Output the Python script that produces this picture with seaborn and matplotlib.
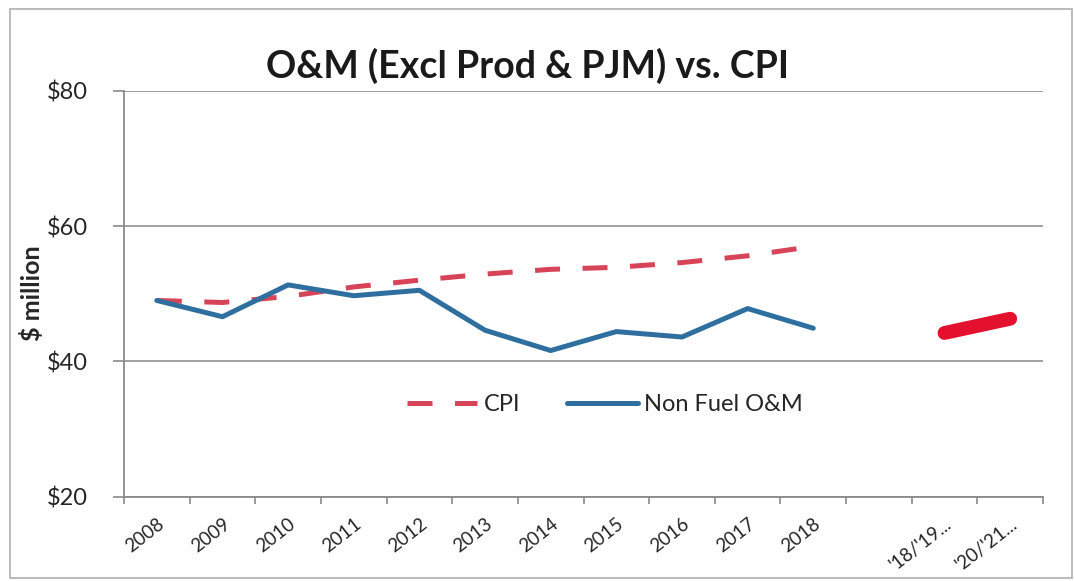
import matplotlib
matplotlib.use("Agg")
import matplotlib.pyplot as plt
import seaborn as sns
import pandas as pd
import numpy as np
from matplotlib.patches import Rectangle

categories = ["2008", "2009", "2010", "2011", "2012", "2013", "2014", "2015",
              "2016", "2017", "2018", "", "'18/'19...", "'20/'21..."]
years = ["2008", "2009", "2010", "2011", "2012", "2013", "2014", "2015",
         "2016", "2017", "2018"]
cpi = [49.0, 48.7, 49.6, 51.0, 52.0, 52.9, 53.6, 53.9, 54.6, 55.6, 57.0]
non_fuel_om = [49.0, 46.6, 51.3, 49.7, 50.5, 44.6, 41.6, 44.4, 43.6, 47.8, 44.9]
forecast_cats = ["'18/'19...", "'20/'21..."]
forecast = [44.2, 46.3]
y_ticks = [20, 40, 60, 80]

sns.set_theme(style="white")
plt.rcParams['font.family'] = ['Lato', 'DejaVu Sans']

W, H = 1074, 581
fig = plt.figure(figsize=(W / 100, H / 100), dpi=100)
ax = fig.add_axes([124 / W, 1 - 496.7 / H, (1043 - 124) / W, (496.7 - 90.7) / H])

pos = {c: i for i, c in enumerate(categories)}
df_cpi = pd.DataFrame({"x": [pos[c] for c in years], "y": cpi})
df_om = pd.DataFrame({"x": [pos[c] for c in years], "y": non_fuel_om})
df_fc = pd.DataFrame({"x": [pos[c] for c in forecast_cats], "y": forecast})

sns.lineplot(data=df_cpi, x="x", y="y", ax=ax, color="#D84457", linewidth=3.6,
             label="CPI", zorder=3)
ax.lines[-1].set_dashes([5, 4.5])
sns.lineplot(data=df_om, x="x", y="y", ax=ax, color="#2F6F9F", linewidth=3.6,
             label="Non Fuel O&M", zorder=4)
sns.lineplot(data=df_fc, x="x", y="y", ax=ax, color="#E3112D", linewidth=10,
             solid_capstyle="round", zorder=4, legend=False)

ax.set_xlim(-0.5, len(categories) - 0.5)
ax.set_ylim(20, 80)
ax.set_yticks(y_ticks)
ax.set_yticklabels([f"${v}" for v in y_ticks], fontsize=17)
ax.yaxis.grid(True, color="#9A9A9A", linewidth=1.3)
ax.set_axisbelow(True)

ax.set_xticks(np.arange(len(categories)))
ax.set_xticklabels(categories, rotation=38, ha="right", rotation_mode="anchor",
                   fontsize=13.5)
ax.set_xticks(np.arange(len(categories) + 1) - 0.5, minor=True)
ax.tick_params(axis="x", which="major", length=0, pad=13)
ax.tick_params(axis="x", which="minor", length=5, color="#8A8A8A", width=1.2,
               direction="out", bottom=True)
ax.tick_params(axis="y", length=8, color="#8A8A8A", width=1.2, left=True,
               direction="out", pad=18)

for s in ["top", "right"]:
    ax.spines[s].set_visible(False)
for s in ["left", "bottom"]:
    ax.spines[s].set_color("#8A8A8A")
    ax.spines[s].set_linewidth(1.3)

ax.set_xlabel("")
ax.set_ylabel("$ million", fontsize=18, fontweight="bold")
ax.yaxis.set_label_coords((44 - 124) / (1043 - 124), (496.7 - 293) / (496.7 - 90.7))

leg = ax.legend(loc="center", bbox_to_anchor=(0.523, 0.226), ncol=2, frameon=False,
                fontsize=17, handlelength=3.0, columnspacing=2.0, handletextpad=0.25)

fig.text(528 / W, 1 - 66 / H, "O&M (Excl Prod & PJM) vs. CPI", ha="center",
         va="center", fontsize=27, fontweight="bold", color="#1A1A1A")

fig.patches.append(Rectangle((10 / W, 1 - 578 / H), (1072 - 10) / W, (578 - 9) / H,
                             transform=fig.transFigure, fill=False,
                             edgecolor="#B5B5B5", linewidth=1.3))

fig.savefig("out.png", dpi=100)
